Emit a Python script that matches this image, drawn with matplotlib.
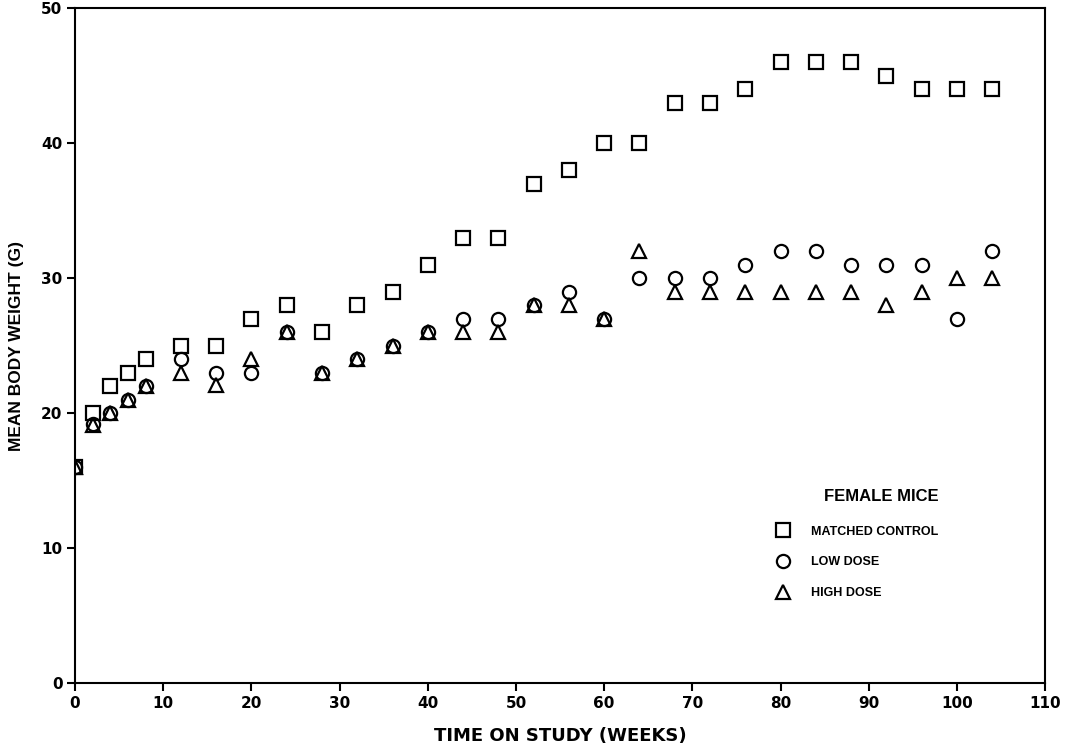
import matplotlib
matplotlib.use('Agg')
import matplotlib.pyplot as plt

# weeks on study and mean body weight (g)
weeks = [0, 2, 4, 6, 8, 12, 16, 20, 24, 28, 32, 36, 40, 44, 48, 52, 56, 60,
         64, 68, 72, 76, 80, 84, 88, 92, 96, 100, 104]
control = [16, 20, 22, 23, 24, 25, 25, 27, 28, 26, 28, 29, 31, 33, 33, 37, 38, 40,
           40, 43, 43, 44, 46, 46, 46, 45, 44, 44, 44]
low_dose = [16, 19.2, 20, 21, 22, 24, 23, 23, 26, 23, 24, 25, 26, 27, 27, 28, 29, 27,
            30, 30, 30, 31, 32, 32, 31, 31, 31, 27, 32]
high_dose = [16, 19.1, 20, 21, 22, 23, 22.1, 24, 26, 23, 24, 25, 26, 26, 26, 28, 28, 27,
             32, 29, 29, 29, 29, 29, 29, 28, 29, 30, 30]

x_ticks = list(range(0, 111, 10))
y_ticks = list(range(0, 51, 10))

narrow = ['Liberation Sans Narrow', 'DejaVu Sans Condensed', 'DejaVu Sans']
plain = ['Liberation Sans', 'DejaVu Sans']

fig = plt.figure(figsize=(10.65, 7.49), dpi=100)
ax = fig.add_axes([0.0704, 0.088, 0.911, 0.901])

mk = dict(linestyle='none', markerfacecolor='none', markeredgecolor='black',
          markeredgewidth=1.6, markersize=9.5)
ax.plot(weeks, control, marker='s', label='MATCHED CONTROL', **mk)
ax.plot(weeks, low_dose, marker='o', label='LOW DOSE', **mk)
ax.plot(weeks, high_dose, marker='^', label='HIGH DOSE', **mk)

ax.set_xlim(0, 110)
ax.set_ylim(0, 50)
ax.set_xticks(x_ticks)
ax.set_yticks(y_ticks)
for s in ax.spines.values():
    s.set_linewidth(1.5)
ax.tick_params(direction='out', length=6, width=1.5, labelsize=11, pad=3)
for lab in ax.get_xticklabels() + ax.get_yticklabels():
    lab.set_family(narrow)
    lab.set_fontweight('bold')

ax.set_xlabel('TIME ON STUDY (WEEKS)', family=narrow, fontweight='bold',
              fontsize=13, labelpad=12)
ax.set_ylabel('MEAN BODY WEIGHT (G)', family=plain, fontweight='bold',
              fontsize=12.5, labelpad=12)

leg = ax.legend(loc='upper left', bbox_to_anchor=(0.705, 0.305), frameon=False,
                title='FEMALE MICE', handletextpad=1.3, labelspacing=1.5,
                prop={'family': plain, 'weight': 'bold', 'size': 9})
leg.get_title().set_fontweight('bold')
leg.get_title().set_family(plain)
leg.get_title().set_fontsize(12)
leg._legend_box.align = 'right'
leg._legend_box.sep = 16

fig.savefig('out.png', dpi=100)
